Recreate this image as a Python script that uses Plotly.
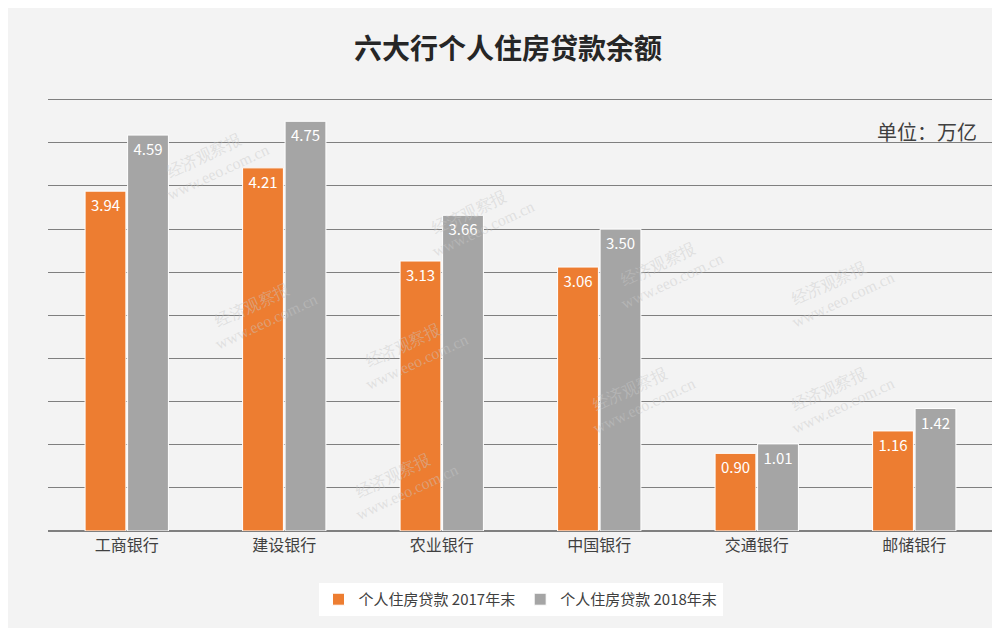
import plotly.graph_objects as go

banks = ['工商银行', '建设银行', '农业银行', '中国银行', '交通银行', '邮储银行']
loans_2017 = [3.94, 4.21, 3.13, 3.06, 0.90, 1.16]
loans_2018 = [4.59, 4.75, 3.66, 3.50, 1.01, 1.42]

fig = go.Figure()
fig.add_trace(go.Bar(x=banks, y=loans_2017, name='个人住房贷款 2017年末',
                     marker=dict(color='#ED7D31', line=dict(color='white', width=1)),
                     text=[f'{v:.2f}' for v in loans_2017], textposition='inside',
                     insidetextanchor='end', textfont=dict(color='white', size=15)))
fig.add_trace(go.Bar(x=banks, y=loans_2018, name='个人住房贷款 2018年末',
                     marker=dict(color='#A5A5A5', line=dict(color='white', width=1)),
                     text=[f'{v:.2f}' for v in loans_2018], textposition='inside',
                     insidetextanchor='end', textfont=dict(color='white', size=15)))

fig.update_layout(
    width=1000, height=628,
    margin=dict(l=40, r=15, t=90, b=105),
    paper_bgcolor='#f3f3f3', plot_bgcolor='#f3f3f3',
    font=dict(family='Noto Sans CJK SC', color='#404040'),
    title=dict(text='<b>六大行个人住房贷款余额</b>', x=0.5, y=0.95, xanchor='center',
               font=dict(size=28, color='#262626')),
    barmode='group', bargap=0.46, bargroupgap=0.04,
    showlegend=True,
    legend=dict(orientation='h', x=0.5, xanchor='center', y=-0.12, yanchor='top',
                font=dict(size=15, color='#404040'),
                bgcolor='#ffffff'),
    uniformtext=dict(minsize=14, mode='show'),
)
fig.update_yaxes(range=[0, 5.02], dtick=0.5, showticklabels=False, showgrid=True,
                 gridcolor='#7f7f7f', gridwidth=1, zeroline=True, zerolinecolor='#7f7f7f')
fig.update_xaxes(tickfont=dict(size=16, color='#404040'), showline=True, linecolor='#7f7f7f')
fig.add_annotation(text='单位：万亿', x=0.985, y=0.96, xref='paper', yref='paper',
                   xanchor='right', showarrow=False, font=dict(size=20, color='#404040'))

# watermarks
for wx, wy in [(0.1, 0.95), (0.45, 0.82), (0.72, 0.7), (0.15, 0.5), (0.9, 0.55),
               (0.38, 0.3), (0.62, 0.2), (0.9, 0.2), (0.3, 0.0)]:
    fig.add_annotation(text='经济观察报<br>   www.eeo.com.cn', x=wx, y=wy, xref='paper', yref='paper',
                       showarrow=False, textangle=-25, font=dict(size=16, color='rgba(200,200,200,0.45)',
                                                                 family='Liberation Serif'))

fig.write_html("out.html")
